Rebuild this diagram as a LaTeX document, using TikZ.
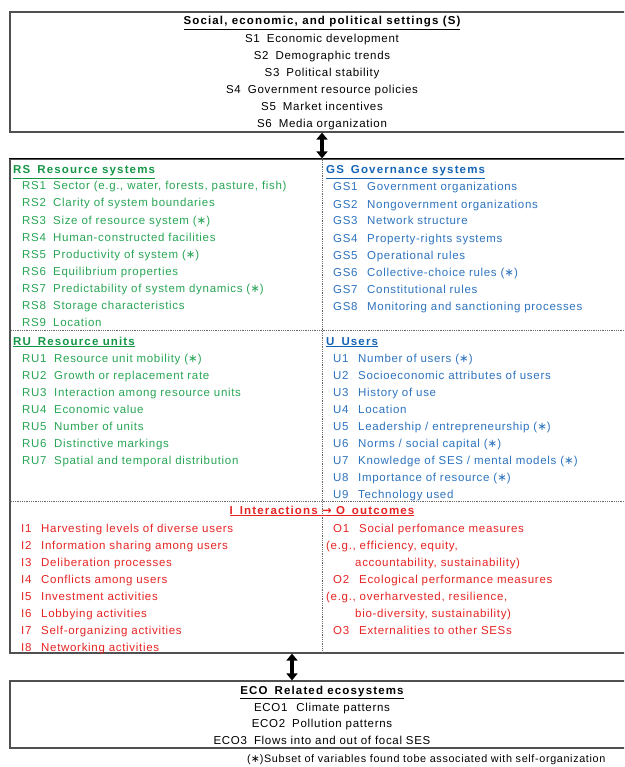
\documentclass[tikz,border=0pt]{standalone}
\usepackage{fontspec}
\setmainfont{Liberation Sans}[LetterSpace=6]
\newfontfamily\arrowfont{DejaVu Sans}
\usetikzlibrary{arrows.meta,positioning}

\definecolor{sesgreen}{RGB}{40,165,85}
\definecolor{sesgreenhd}{RGB}{20,150,70}
\definecolor{sesblue}{RGB}{45,115,190}
\definecolor{sesbluehd}{RGB}{20,100,180}
\definecolor{sesred}{RGB}{230,35,35}
\definecolor{boxgray}{RGB}{80,80,80}

\newcommand{\varlab}[2]{\makebox[#1][l]{#2}}
\newcommand{\hd}[1]{\textbf{\addfontfeatures{LetterSpace=10}\underline{#1}}}
\newcommand{\sorg}{({\arrowfont ∗})}

\begin{document}
\begin{tikzpicture}[x=1pt,y=-1pt,
	every node/.style={inner sep=0pt,font=\fontsize{11.5}{13}\selectfont},
	line/.style={anchor=base west},
	midline/.style={anchor=base},
	frame/.style={draw=boxgray,line width=1.2pt,minimum width=624pt},
	divider/.style={densely dotted,line width=0.8pt,draw=black!60},
	twoway/.style={{Triangle[length=7pt,width=11pt]}-{Triangle[length=7pt,width=11pt]},line width=3.5pt}]
	\useasboundingbox (0,0) rectangle (624,767);
	\clip (0,0) rectangle (624,767);

	% outer boxes
	\node[frame,minimum height=120pt] (settings) at (322,72) {};
	\node[frame,minimum height=494pt] (core) at (322,406) {};
	\node[frame,minimum height=67pt] (eco) at (322,714.5) {};
	\draw[black,line width=1.5pt] (core.north west) -- (core.north east);

	\coordinate (cut1) at (0,330);
	\coordinate (cut2) at (0,501);
	\draw[divider] (core.west |- cut1) -- (core.east |- cut1);
	\draw[divider] (core.west |- cut2) -- (core.east |- cut2);
	\draw[divider] (core.north) -- (core.south);

	\draw[twoway] (settings) -- (core);
	\draw[twoway] ([xshift=-30pt]core.south) -- ([xshift=-30pt]eco.north);

	% S
	\node[midline] (stitle) at (322,25) {\hd{Social, economic, and political settings (S)}};
	\node[midline] (s1) at (322,43) {S1\hspace{7pt}Economic development};
	\node[midline] (s2) at (322,60) {S2\hspace{7pt}Demographic trends};
	\node[midline] (s3) at (322,77) {S3\hspace{7pt}Political stability};
	\node[midline] (s4) at (322,94) {S4\hspace{7pt}Government resource policies};
	\node[midline] (s5) at (322,111) {S5\hspace{7pt}Market incentives};
	\node[midline] (s6) at (322,128) {S6\hspace{7pt}Media organization};

	% RS
	\node[line,text=sesgreenhd] (rstitle) at (13,174) {\hd{RS\hspace{7pt}Resource systems}};
	\node[line,text=sesgreen] (rs1) at (22,190) {\varlab{31pt}{RS1}Sector (e.g., water, forests, pasture, fish)};
	\node[line,text=sesgreen] (rs2) at (22,207) {\varlab{31pt}{RS2}Clarity of system boundaries};
	\node[line,text=sesgreen] (rs3) at (22,224) {\varlab{31pt}{RS3}Size of resource system \sorg};
	\node[line,text=sesgreen] (rs4) at (22,241) {\varlab{31pt}{RS4}Human-constructed facilities};
	\node[line,text=sesgreen] (rs5) at (22,258) {\varlab{31pt}{RS5}Productivity of system \sorg};
	\node[line,text=sesgreen] (rs6) at (22,275) {\varlab{31pt}{RS6}Equilibrium properties};
	\node[line,text=sesgreen] (rs7) at (22,292) {\varlab{31pt}{RS7}Predictability of system dynamics \sorg};
	\node[line,text=sesgreen] (rs8) at (22,309) {\varlab{31pt}{RS8}Storage characteristics};
	\node[line,text=sesgreen] (rs9) at (22,326) {\varlab{31pt}{RS9}Location};

	% GS
	\node[line,text=sesbluehd] (gstitle) at (326,174) {\hd{GS\hspace{7pt}Governance systems}};
	\node[line,text=sesblue] (gs1) at (333,191) {\varlab{34pt}{GS1}Government organizations};
	\node[line,text=sesblue] (gs2) at (333,208) {\varlab{34pt}{GS2}Nongovernment organizations};
	\node[line,text=sesblue] (gs3) at (333,225) {\varlab{34pt}{GS3}Network structure};
	\node[line,text=sesblue] (gs4) at (333,242) {\varlab{34pt}{GS4}Property-rights systems};
	\node[line,text=sesblue] (gs5) at (333,259) {\varlab{34pt}{GS5}Operational rules};
	\node[line,text=sesblue] (gs6) at (333,276) {\varlab{34pt}{GS6}Collective-choice rules \sorg};
	\node[line,text=sesblue] (gs7) at (333,293) {\varlab{34pt}{GS7}Constitutional rules};
	\node[line,text=sesblue] (gs8) at (333,310) {\varlab{34pt}{GS8}Monitoring and sanctioning processes};

	% RU
	\node[line,text=sesgreenhd] (rutitle) at (13,345) {\hd{RU\hspace{7pt}Resource units}};
	\node[line,text=sesgreen] (ru1) at (22,362) {\varlab{32pt}{RU1}Resource unit mobility \sorg};
	\node[line,text=sesgreen] (ru2) at (22,379) {\varlab{32pt}{RU2}Growth or replacement rate};
	\node[line,text=sesgreen] (ru3) at (22,396) {\varlab{32pt}{RU3}Interaction among resource units};
	\node[line,text=sesgreen] (ru4) at (22,413) {\varlab{32pt}{RU4}Economic value};
	\node[line,text=sesgreen] (ru5) at (22,430) {\varlab{32pt}{RU5}Number of units};
	\node[line,text=sesgreen] (ru6) at (22,447) {\varlab{32pt}{RU6}Distinctive markings};
	\node[line,text=sesgreen] (ru7) at (22,464) {\varlab{32pt}{RU7}Spatial and temporal distribution};

	% U
	\node[line,text=sesbluehd] (utitle) at (326,345) {\hd{U\hspace{7pt}Users}};
	\node[line,text=sesblue] (u1) at (333,362) {\varlab{25pt}{U1}Number of users \sorg};
	\node[line,text=sesblue] (u2) at (333,379) {\varlab{25pt}{U2}Socioeconomic attributes of users};
	\node[line,text=sesblue] (u3) at (333,396) {\varlab{25pt}{U3}History of use};
	\node[line,text=sesblue] (u4) at (333,413) {\varlab{25pt}{U4}Location};
	\node[line,text=sesblue] (u5) at (333,430) {\varlab{25pt}{U5}Leadership / entrepreneurship \sorg};
	\node[line,text=sesblue] (u6) at (333,447) {\varlab{25pt}{U6}Norms / social capital \sorg};
	\node[line,text=sesblue] (u7) at (333,464) {\varlab{25pt}{U7}Knowledge of SES / mental models \sorg};
	\node[line,text=sesblue] (u8) at (333,481) {\varlab{25pt}{U8}Importance of resource \sorg};
	\node[line,text=sesblue] (u9) at (333,498) {\varlab{25pt}{U9}Technology used};

	% I -> O
	\node[midline,text=sesred] (iotitle) at (322,514) {\hd{I\hspace{7pt}Interactions {\arrowfont →} O\hspace{7pt}outcomes}};
	\node[line,text=sesred] (i1) at (21,532) {\varlab{20pt}{I1}Harvesting levels of diverse users};
	\node[line,text=sesred] (i2) at (21,549) {\varlab{20pt}{I2}Information sharing among users};
	\node[line,text=sesred] (i3) at (21,566) {\varlab{20pt}{I3}Deliberation processes};
	\node[line,text=sesred] (i4) at (21,583) {\varlab{20pt}{I4}Conflicts among users};
	\node[line,text=sesred] (i5) at (21,600) {\varlab{20pt}{I5}Investment activities};
	\node[line,text=sesred] (i6) at (21,617) {\varlab{20pt}{I6}Lobbying activities};
	\node[line,text=sesred] (i7) at (21,634) {\varlab{20pt}{I7}Self-organizing activities};
	\node[line,text=sesred] (i8) at (21,651) {\varlab{20pt}{I8}Networking activities};
	\node[line,text=sesred] (o1) at (333,532) {\varlab{26pt}{O1}Social perfomance measures};
	\node[line,text=sesred] (o1a) at (326,549) {(e.g., efficiency, equity,};
	\node[line,text=sesred] (o1b) at (355,566) {accountability, sustainability)};
	\node[line,text=sesred] (o2) at (333,583) {\varlab{26pt}{O2}Ecological performance measures};
	\node[line,text=sesred] (o2a) at (326,600) {(e.g., overharvested, resilience,};
	\node[line,text=sesred] (o2b) at (355,617) {bio-diversity, sustainability)};
	\node[line,text=sesred] (o3) at (333,634) {\varlab{26pt}{O3}Externalities to other SESs};

	% ECO
	\node[midline] (ecotitle) at (322,694) {\hd{ECO\hspace{7pt}Related ecosystems}};
	\node[midline] (eco1) at (322,711) {ECO1\hspace{9pt}Climate patterns};
	\node[midline] (eco2) at (322,727) {ECO2\hspace{7pt}Pollution patterns};
	\node[midline] (eco3) at (322,744) {ECO3\hspace{7pt}Flows into and out of focal SES};

	\node[line,font=\fontsize{10.8}{12}\selectfont] (note) at (247,762) {\sorg Subset of variables found tobe associated with self-organization};
\end{tikzpicture}
\end{document}
